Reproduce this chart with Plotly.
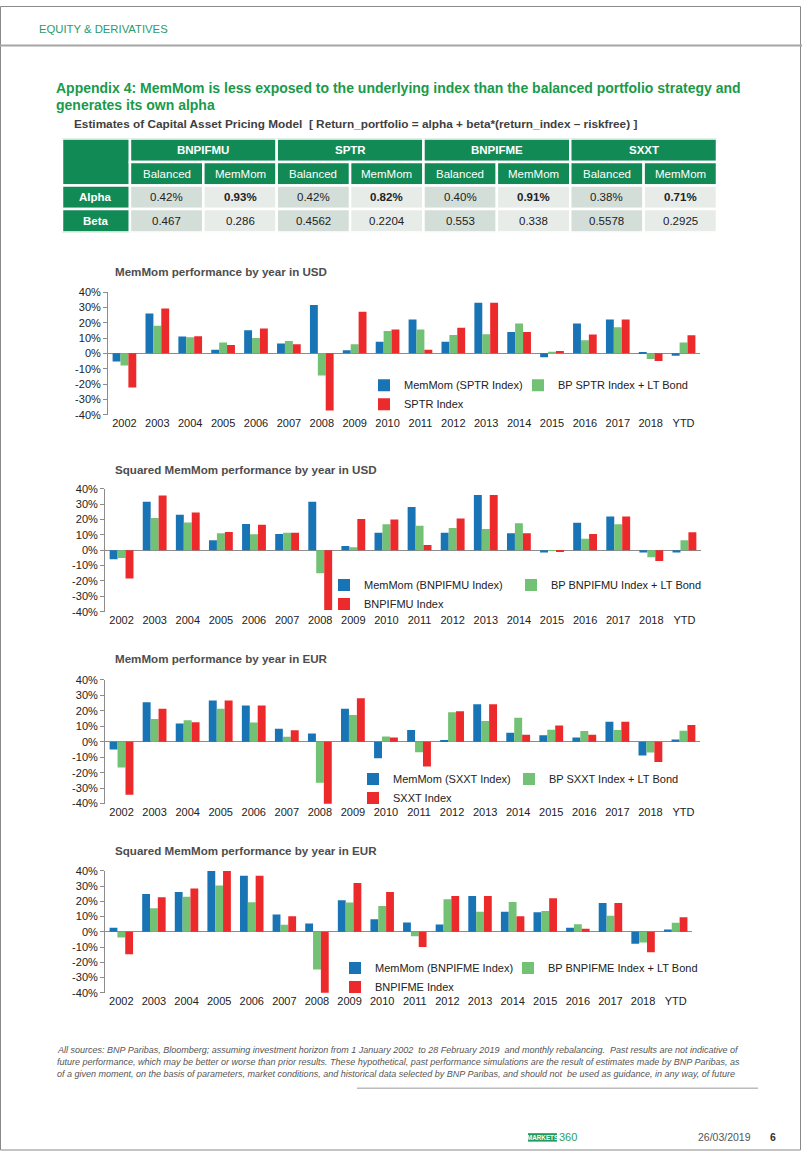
import plotly.graph_objects as go

# ---------------- data ----------------
years = ["2002", "2003", "2004", "2005", "2006", "2007", "2008", "2009", "2010",
         "2011", "2012", "2013", "2014", "2015", "2016", "2017", "2018", "YTD"]

usd_sptr_memmom = [-5.3, 26, 11, 2.4, 15, 6.5, 31.5, 2, 7.5, 22, 7.5, 33, 14, -2.5, 19.5, 22, 0.7, -1.5]
usd_sptr_bp = [-7.9, 18, 10.5, 7, 10, 8, -14.5, 6, 14.5, 15.5, 12, 12.5, 19.5, 1.1, 8.5, 17, -3.6, 7]
usd_sptr_index = [-22.3, 29.3, 11.2, 5.5, 16.2, 6, -37.3, 27.1, 15.5, 2.4, 16.7, 33, 14, 1.5, 12.3, 22, -5, 11.8]

usd_bnpifmu_memmom = [-5.9, 31.7, 23.2, 6.5, 17.1, 10.6, 31.7, 2.8, 11.5, 28.2, 11.5, 36, 11.1, -1.5, 18, 22, -1.5, -1.5]
usd_bnpifmu_bp = [-5, 21, 18.2, 11.1, 10.4, 11.5, -15, 2, 16.9, 16, 14.5, 13.9, 17.6, -0.3, 7.6, 16.9, -4.6, 6.5]
usd_bnpifmu_index = [-18.4, 35.8, 24.7, 11.9, 16.7, 11.5, -39, 20.4, 20, 3.5, 20.8, 36, 11.1, -0.9, 10.6, 22, -6.9, 11.7]

eur_sxxt_memmom = [-5, 25.6, 11.9, 26.7, 23.4, 8.5, 5.4, 21.3, -10.6, 7.6, 0.9, 24.3, 5.9, 4.3, 2.8, 13, -8.9, 1.5]
eur_sxxt_bp = [-16.7, 14.8, 13.9, 21.3, 12.4, 3.3, -26.5, 17.4, 3.5, -6.7, 19.1, 13.4, 15.6, 7.8, 6.9, 7.6, -6.9, 7.2]
eur_sxxt_index = [-34.3, 21.3, 12.6, 26.7, 23.4, 7.4, -41, 28.2, 2.8, -16, 19.7, 24.3, 4.6, 10.6, 4.6, 13, -13, 10.8]

eur_bnpifme_memmom = [2.6, 24.8, 26.1, 40, 36.8, 11.3, 5.4, 20.7, 8.3, 6.1, 4.8, 23.5, 13.1, 12.9, 2.6, 19, -7.8, 1.5]
eur_bnpifme_bp = [-3.7, 15.5, 23.1, 30.5, 19.4, 4.6, -24.8, 19.2, 17, -3, 21.4, 13.1, 19.6, 13.7, 5, 10.5, -7, 5.9]
eur_bnpifme_index = [-14.8, 22.7, 28.5, 40, 36.8, 10.2, -40.5, 32, 26.1, -10, 23.5, 23.5, 10.2, 22, 2, 19, -13.5, 9.6]

y_tick_values = [-40, -30, -20, -10, 0, 10, 20, 30, 40]
y_tick_labels = ["-40%", "-30%", "-20%", "-10%", "0%", "10%", "20%", "30%", "40%"]

chart_titles = ["MemMom performance by year in USD",
                "Squared MemMom performance by year in USD",
                "MemMom performance by year in EUR",
                "Squared MemMom performance by year in EUR"]
series_names = [
    ["MemMom (SPTR Index)", "BP SPTR Index + LT Bond", "SPTR Index"],
    ["MemMom (BNPIFMU Index)", "BP BNPIFMU Index + LT Bond", "BNPIFMU Index"],
    ["MemMom (SXXT Index)", "BP SXXT Index + LT Bond", "SXXT Index"],
    ["MemMom (BNPIFME Index)", "BP BNPIFME Index + LT Bond", "BNPIFME Index"],
]
series_values = [
    [usd_sptr_memmom, usd_sptr_bp, usd_sptr_index],
    [usd_bnpifmu_memmom, usd_bnpifmu_bp, usd_bnpifmu_index],
    [eur_sxxt_memmom, eur_sxxt_bp, eur_sxxt_index],
    [eur_bnpifme_memmom, eur_bnpifme_bp, eur_bnpifme_index],
]

table_groups = ["BNPIFMU", "SPTR", "BNPIFME", "SXXT"]
table_strategies = ["Balanced", "MemMom"]
table_rows = ["Alpha", "Beta"]
alpha_values = [0.42, 0.93, 0.42, 0.82, 0.40, 0.91, 0.38, 0.71]
beta_values = ["0.467", "0.286", "0.4562", "0.2204", "0.553", "0.338", "0.5578", "0.2925"]

footnote_lines = [
    "All sources: BNP Paribas, Bloomberg; assuming investment horizon from 1 January 2002  to 28 February 2019  and monthly rebalancing.  Past results are not indicative of",
    "future performance, which may be better or worse than prior results. These hypothetical, past performance simulations are the result of estimates made by BNP Paribas, as",
    "of a given moment, on the basis of parameters, market conditions, and historical data selected by BNP Paribas, and should not  be used as guidance, in any way, of future",
]

# ---------------- styling ----------------
W, H = 802, 1157
FONT = "Liberation Sans, Arial, sans-serif"
GREEN = "#118A55"
BAR_COLORS = ["#1874B4", "#72C174", "#EC2A2B"]


def px(x):
    return x / W


def py(y):
    return 1 - y / H


# per chart: x-domain(px), y-domain(px: top, bottom), title y, legend (x, top, column spacing)
chart_layout = [
    dict(xd=(108, 700), yd=(289, 413), ty=268, leg=(364, 368.5, 154)),
    dict(xd=(105, 701), yd=(488, 612), ty=468, leg=(324, 570.5, 187)),
    dict(xd=(105, 700), yd=(681, 806), ty=659, leg=(353, 766.5, 156)),
    dict(xd=(105, 692), yd=(874, 997), ty=853, leg=(335, 957.5, 173)),
]

fig = go.Figure()
layout = {}
annotations = []
shapes = []

for i, cl in enumerate(chart_layout, start=1):
    sfx = "" if i == 1 else str(i)
    xa, ya = "x" + sfx, "y" + sfx
    leg = "legend" + sfx
    lx, lt, sp = cl["leg"]
    for j in range(3):
        fig.add_trace(go.Bar(
            x=years, y=series_values[i - 1][j], name=series_names[i - 1][j],
            marker=dict(color=BAR_COLORS[j], line=dict(width=0)),
            xaxis=xa, yaxis=ya, legend=leg,
            legendgroup=f"c{i}{'b' if j == 1 else 'a'}",
            legendwidth=175 if j == 1 else sp - 45,
            hovertemplate="%{x}: %{y}%<extra>" + series_names[i - 1][j] + "</extra>",
        ))
    layout["xaxis" + sfx] = dict(
        domain=[px(cl["xd"][0]), px(cl["xd"][1])], anchor=ya, type="category",
        range=[-0.5, 17.5], showgrid=False, showline=False, ticks="", zeroline=False,
        tickfont=dict(family=FONT, size=11, color="#222"), fixedrange=True)
    layout["yaxis" + sfx] = dict(
        domain=[py(cl["yd"][1]), py(cl["yd"][0])], anchor=xa, range=[-40, 40],
        tickvals=y_tick_values, ticktext=y_tick_labels,
        showline=True, linecolor="#8c8c8c", linewidth=1,
        ticks="outside", ticklen=4, tickcolor="#8c8c8c",
        showgrid=False, zeroline=True, zerolinecolor="#8c8c8c", zerolinewidth=1,
        tickfont=dict(family=FONT, size=11, color="#222"), fixedrange=True)
    layout[leg] = dict(
        x=px(lx), y=py(lt), xanchor="left", yanchor="top", orientation="h",
        traceorder="grouped", tracegroupgap=0, bgcolor="rgba(0,0,0,0)",
        font=dict(family=FONT, size=11, color="#222"))
    annotations.append(dict(
        text="<b>" + chart_titles[i - 1] + "</b>", xref="paper", yref="paper",
        x=px(113), y=py(cl["ty"]), xanchor="left", yanchor="middle", showarrow=False,
        font=dict(family=FONT, size=11.6, color="#4d4d4d")))

# ---------------- table (own axes) ----------------
first_w = 0.926
ncols = len(table_groups) * len(table_strategies)
layout["xaxis5"] = dict(domain=[px(62), px(717)], range=[0, first_w + ncols],
                        visible=False, fixedrange=True, anchor="y5")
layout["yaxis5"] = dict(domain=[py(229), py(134)], range=[4, 0],
                        visible=False, fixedrange=True, anchor="x5")


def cell(x0, x1, y0, y1, fill):
    shapes.append(dict(type="rect", xref="x5", yref="y5", x0=x0, x1=x1, y0=y0, y1=y1,
                       fillcolor=fill, line=dict(color="white", width=2.5), layer="below"))


def ctext(x, y, t, color, size=11.5, bold=False):
    annotations.append(dict(text=("<b>%s</b>" % t) if bold else t, xref="x5", yref="y5",
                            x=x, y=y, showarrow=False, xanchor="center", yanchor="middle",
                            font=dict(family=FONT, size=size, color=color)))


cell(0, first_w, 0, 2, GREEN)
for g, name in enumerate(table_groups):
    x0 = first_w + 2 * g
    cell(x0, x0 + 2, 0, 1, GREEN)
    ctext(x0 + 1, 0.5, name, "white", 11.5, True)
for k in range(ncols):
    x0 = first_w + k
    cell(x0, x0 + 1, 1, 2, GREEN)
    ctext(x0 + 0.5, 1.5, table_strategies[k % 2], "white", 11.5)
for r, rname in enumerate(table_rows):
    cell(0, first_w, 2 + r, 3 + r, GREEN)
    ctext(first_w / 2, 2.5 + r, rname, "white", 11.5, True)
    for k in range(ncols):
        x0 = first_w + k
        fill = "#D4DED8" if k % 2 == 0 else "#E8ECE9"
        cell(x0, x0 + 1, 2 + r, 3 + r, fill)
        if r == 0:
            ctext(x0 + 0.5, 2.5, "%.2f%%" % alpha_values[k], "#222", 11.5, k % 2 == 1)
        else:
            ctext(x0 + 0.5, 3.5, beta_values[k], "#222", 11.5)

# invisible trace to bind table axes
fig.add_trace(go.Scatter(x=[0], y=[0], xaxis="x5", yaxis="y5", mode="markers",
                         marker=dict(opacity=0), showlegend=False, hoverinfo="skip"))

# ---------------- page decoration ----------------
shapes.append(dict(type="rect", xref="paper", yref="paper", x0=px(0.5), x1=px(800.5),
                   y0=py(1156), y1=py(0.5), line=dict(color="#8a8a8a", width=1),
                   fillcolor="rgba(0,0,0,0)", layer="below"))
shapes.append(dict(type="line", xref="paper", yref="paper", x0=0, x1=1,
                   y0=py(40), y1=py(40), line=dict(color="#a6a6a6", width=2)))
shapes.append(dict(type="line", xref="paper", yref="paper", x0=px(357), x1=px(758),
                   y0=py(1093.5), y1=py(1093.5), line=dict(color="#9a9a9a", width=1)))
shapes.append(dict(type="rect", xref="paper", yref="paper", x0=px(528), x1=px(557),
                   y0=py(1147.5), y1=py(1139), fillcolor="#1E9B5E", line=dict(width=0)))

annotations += [
    dict(text="EQUITY & DERIVATIVES", x=px(37), y=py(23), xanchor="left",
         font=dict(family=FONT, size=11.3, color="#2E9A6C")),
    dict(text="<b>Appendix 4: MemMom is less exposed to the underlying index than the balanced portfolio strategy and</b>",
         x=px(54), y=py(83), xanchor="left", font=dict(family=FONT, size=14, color="#1A9A4A")),
    dict(text="<b>generates its own alpha</b>", x=px(54), y=py(100), xanchor="left",
         font=dict(family=FONT, size=14, color="#1A9A4A")),
    dict(text="<b>Estimates of Capital Asset Pricing Model  [ Return_portfolio = alpha + beta*(return_index \u2013 riskfree) ]</b>",
         x=px(72), y=py(119), xanchor="left", font=dict(family=FONT, size=11.8, color="#404040")),
    dict(text="<b>MARKETS</b>", x=px(542.5), y=py(1143.3), xanchor="center",
         font=dict(family=FONT, size=6.3, color="white")),
    dict(text="360", x=px(557), y=py(1143.3), xanchor="left",
         font=dict(family=FONT, size=11, color="#2A9D64")),
    dict(text="26/03/2019", x=px(696), y=py(1143.3), xanchor="left",
         font=dict(family=FONT, size=10.5, color="#555")),
    dict(text="<b>6</b>", x=px(773), y=py(1143.3), xanchor="center",
         font=dict(family=FONT, size=10.5, color="#333")),
]
for n, line in enumerate(footnote_lines):
    annotations.append(dict(text="<i>" + line + "</i>", x=px(55), y=py(1055 + 12 * n),
                            xanchor="left", font=dict(family=FONT, size=9, color="#555")))

for a in annotations:
    a.setdefault("xref", "paper")
    a.setdefault("yref", "paper")
    a.setdefault("yanchor", "middle")
    a["showarrow"] = False

fig.update_layout(
    width=W, height=H, margin=dict(l=0, r=0, t=0, b=0),
    paper_bgcolor="white", plot_bgcolor="white",
    barmode="group", bargap=0.28, bargroupgap=0,
    font=dict(family=FONT, color="#222"),
    annotations=annotations, shapes=shapes, showlegend=True,
    **layout,
)

PAGE_FIX = (
    "document.documentElement.style.margin='0';"
    "document.body.style.margin='0';document.body.style.padding='0';"
    "document.documentElement.style.overflow='hidden';"
    "var d=document.querySelector('.plotly-graph-div');"
    "if(d){d.style.position='fixed';d.style.left='0px';d.style.top='0px';}"
)

fig.write_html("out.html", config={"displayModeBar": False}, post_script=PAGE_FIX)
